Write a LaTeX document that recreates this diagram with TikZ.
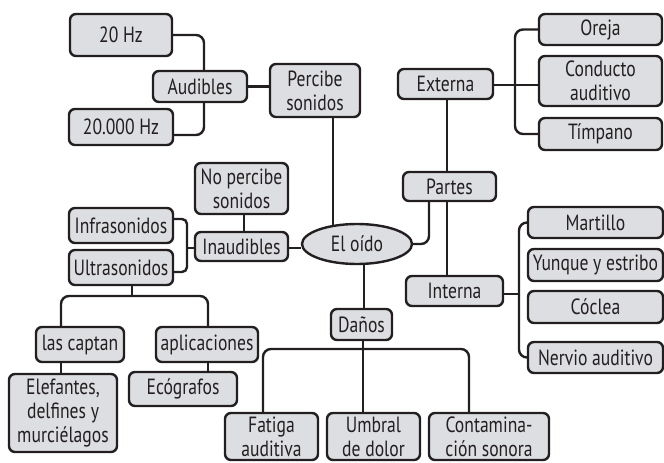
\documentclass[tikz,border=0pt]{standalone}
\usepackage{fontspec}
\setmainfont{PT Sans}[FakeStretch=0.8]
\usetikzlibrary{shapes.geometric,backgrounds}
\definecolor{boxfill}{RGB}{221,222,225}
\definecolor{ink}{RGB}{35,31,32}
\tikzset{
  box/.style={draw=ink, fill=boxfill, line width=2.4pt, rounded corners=6pt,
    inner sep=0pt, align=center, text=ink, font=\fontsize{22}{24}\selectfont},
  hub/.style={box, ellipse, rounded corners=0pt},
  conn/.style={draw=ink, line width=2.4pt, rounded corners=8pt},
}
% \bx{name}{x}{y}{width}{height}{text}
\newcommand{\bx}[6]{\node[box, minimum width=#4pt, minimum height=#5pt] (#1) at (#2,#3) {#6};}
\begin{document}
\begin{tikzpicture}[x=1pt,y=-1pt]
\useasboundingbox (0,0) rectangle (664,463);

% central node
\node[hub, minimum width=110pt, minimum height=40pt] (oido) at (357,244) {El oído};

% perception branch
\bx{percibe}{315}{90.5}{90}{53}{Percibe\\sonidos}
\bx{audibles}{200}{86.5}{94}{31}{Audibles}
\bx{hzlow}{121}{35}{102}{42}{20 Hz}
\bx{hzhigh}{121}{127}{104}{36}{20.000 Hz}
\bx{nopercibe}{241.5}{188.5}{93}{51}{No percibe\\sonidos}
\bx{inaudibles}{241.5}{246.5}{93}{29}{Inaudibles}
\bx{infra}{121}{225.5}{104}{35}{Infrasonidos}
\bx{ultra}{121}{267.5}{104}{35}{Ultrasonidos}
\bx{captan}{80}{344.5}{88}{35}{las captan}
\bx{aplic}{207}{344.5}{102}{35}{aplicaciones}
\bx{animales}{63}{413}{108}{78}{Elefantes,\\delfines y\\murciélagos}
\bx{ecografos}{183}{389}{108}{34}{Ecógrafos}

% parts branch
\bx{partes}{449.5}{186.5}{93}{29}{Partes}
\bx{externa}{445.5}{84}{95}{30}{Externa}
\bx{oreja}{600.5}{29.5}{123}{31}{Oreja}
\bx{conducto}{600.5}{81}{123}{50}{Conducto\\auditivo}
\bx{timpano}{600.5}{134}{123}{32}{Tímpano}
\bx{interna}{454.5}{291}{97}{30}{Interna}
\bx{martillo}{595.5}{222.5}{135}{31}{Martillo}
\bx{yunque}{595.5}{265}{135}{32}{Yunque y estribo}
\bx{coclea}{595.5}{307}{135}{32}{Cóclea}
\bx{nervio}{595.5}{357.5}{135}{31}{Nervio auditivo}

% damage branch
\bx{danos}{361.5}{324.5}{61}{31}{Daños}
\bx{fatiga}{271.5}{436.5}{93}{47}{Fatiga\\auditiva}
\bx{umbral}{373.5}{436.5}{93}{47}{Umbral\\de dolor}
\bx{contam}{489}{436.5}{120}{47}{Contamina-\\ción sonora}

\begin{pgfonlayer}{background}
  % audible range
  \draw[conn] (hzlow.east) -| (204,0 |- audibles.north);
  \draw[conn] (204,0 |- audibles.south) |- (hzhigh.east |- 0,135);
  \draw[conn] (audibles.east) -- (audibles.east -| percibe.west);
  \draw[conn] (333,0 |- percibe.south) -- (333,240);
  % inaudible range
  \draw[conn] (244,0 |- nopercibe.south) -- (244,0 |- inaudibles.north);
  \draw[conn,rounded corners=5pt] (infra.east |- 0,219) -| (187,245) |- (ultra.east |- 0,272);
  \draw[conn] (inaudibles.west |- 0,248) -- (187,248);
  \draw[conn] (inaudibles.east |- 0,248) -- (oido.west |- 0,248);
  \draw[conn] (132,0 |- ultra.south) -- (132,296);
  \draw[conn] (61,0 |- captan.north) |- (208,296) -- (208,0 |- aplic.north);
  \draw[conn] (61,0 |- captan.south) -- (61,0 |- animales.north);
  \draw[conn] (208,0 |- aplic.south) -- (208,0 |- ecografos.north);
  % parts
  \draw[conn] (429,0 |- partes.south) |- (oido.east);
  \draw[conn] (447,0 |- externa.south) -- (447,0 |- interna.north);
  \draw[conn] (oreja.west) -| (515,85) |- (timpano.west);
  \draw[conn] (externa.east |- 0,85) -- (conducto.west |- 0,85);
  \draw[conn] (martillo.west) -| (519,294) |- (nervio.west);
  \draw[conn] (interna.east |- 0,294) -- (519,294);
  % damage
  \draw[conn] (364,250) -- (364,0 |- danos.north);
  \draw[conn] (263,0 |- fatiga.north) |- (469,349) -- (469,0 |- contam.north);
  \draw[conn] (363,0 |- danos.south) -- (363,0 |- umbral.north);
\end{pgfonlayer}
\end{tikzpicture}
\end{document}
